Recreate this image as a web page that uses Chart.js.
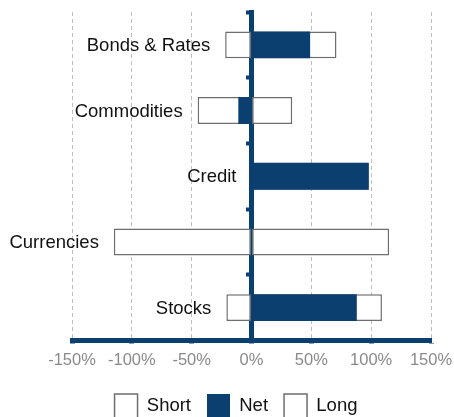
<!DOCTYPE html>
<html>
<head>
<meta charset="utf-8">
<script src="https://cdn.jsdelivr.net/npm/chart.js@4"></script>
<style>
  body { margin: 0; background: #fff; }
  #wrap { width: 454px; height: 417px; }
</style>
</head>
<body>
<div id="wrap"><canvas id="posChart"></canvas></div>
<script>
const categories = ['Bonds & Rates', 'Commodities', 'Credit', 'Currencies', 'Stocks'];
const shortVals = [-22, -45, 0, -115, -21];
const netVals = [49, -11, 98, 0, 88];
const longVals = [71, 34, 98, 115, 109];
const xTicks = [-150, -100, -50, 0, 50, 100, 150];

const navy = '#0a3f70';
const outline = '#6e6e6e';
const fontFamily = '"Liberation Sans", Arial, sans-serif';

// category names sit just left of where each row's bars begin
const rowLabels = {
    id: 'rowLabels',
    afterDatasetsDraw(chart) {
        const { ctx, scales: { x, y } } = chart;
        ctx.save();
        ctx.font = '18.5px ' + fontFamily;
        ctx.fillStyle = '#111';
        ctx.textAlign = 'right';
        ctx.textBaseline = 'middle';
        categories.forEach((name, i) => {
            const start = Math.min(shortVals[i], netVals[i], 0);
            ctx.fillText(name, x.getPixelForValue(start) - 15, y.getPixelForValue(i) + 1);
        });
        ctx.restore();
    }
};

const ctx = document.getElementById('posChart').getContext('2d');
new Chart(ctx, {
    type: 'bar',
    data: {
        labels: categories,
        datasets: [{
            label: 'Short',
            data: shortVals,
            backgroundColor: '#fff',
            borderColor: outline,
            borderWidth: 1.5,
            borderSkipped: false,
            order: 1
        }, {
            label: 'Net',
            data: netVals,
            backgroundColor: navy,
            borderColor: navy,
            borderWidth: 0,
            order: 0
        }, {
            label: 'Long',
            data: longVals,
            backgroundColor: '#fff',
            borderColor: outline,
            borderWidth: 1.5,
            borderSkipped: false,
            order: 1
        }]
    },
    options: {
        indexAxis: 'y',
        responsive: true,
        maintainAspectRatio: false,
        animation: false,
        grouped: false,
        barPercentage: 0.41,
        categoryPercentage: 1,
        layout: { padding: { left: 18, right: 0, top: 12, bottom: -11 } },
        scales: {
            x: {
                min: -150,
                max: 150,
                afterBuildTicks: axis => { axis.ticks = xTicks.map(v => ({ value: v })); },
                afterFit: axis => { axis.paddingLeft = 72; axis.paddingRight = 23; },
                ticks: {
                    callback: v => v + '%',
                    color: '#8a8a8a',
                    padding: 9,
                    font: { family: fontFamily, size: 16.5, lineHeight: 1 }
                },
                grid: {
                    color: '#bdbdbd',
                    lineWidth: 1,
                    tickColor: navy,
                    tickWidth: 5,
                    tickLength: 3
                },
                border: { color: navy, width: 5, dash: [4, 3] }
            },
            y: {
                position: { x: 0 },
                ticks: { display: false },
                grid: {
                    drawOnChartArea: false,
                    tickColor: navy,
                    tickWidth: 4,
                    tickLength: 3
                },
                border: { color: navy, width: 5 }
            }
        },
        plugins: {
            tooltip: { enabled: false },
            legend: {
                position: 'bottom',
                labels: {
                    boxWidth: 23,
                    boxHeight: 24,
                    padding: 16,
                    color: '#111',
                    font: { family: fontFamily, size: 18.5 },
                    sort: (a, b) => a.datasetIndex - b.datasetIndex
                }
            }
        }
    },
    plugins: [rowLabels]
});
</script>
</body>
</html>
